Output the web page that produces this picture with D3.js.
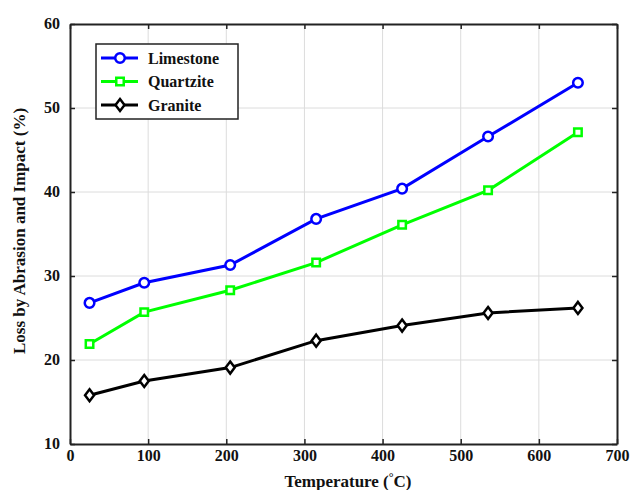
<!DOCTYPE html>
<html><head><meta charset="utf-8">
<script src="https://cdn.jsdelivr.net/npm/d3@7"></script>
<style>body{margin:0;background:#fff}</style>
</head><body>
<svg id="c" width="630" height="490"></svg>
<script>
const temperatures = [25, 95, 205, 315, 425, 535, 650];
const limestone = [26.8, 29.2, 31.3, 36.8, 40.4, 46.6, 53.0];
const quartzite = [21.9, 25.7, 28.3, 31.6, 36.1, 40.2, 47.1];
const granite = [15.8, 17.5, 19.1, 22.3, 24.1, 25.6, 26.2];
const seriesNames = ["Limestone", "Quartzite", "Granite"];
const seriesColors = ["#0000ff", "#00ff00", "#000000"];
const seriesMarkers = ["circle", "square", "diamond"];
const xTicks = [0, 100, 200, 300, 400, 500, 600, 700];
const yTicks = [10, 20, 30, 40, 50, 60];

const series = [limestone, quartzite, granite];
const svg = d3.select("#c");
const m = {l: 70, r: 617, t: 24, b: 444};
const x = d3.scaleLinear().domain([0, 700]).range([m.l, m.r]);
const y = d3.scaleLinear().domain([10, 60]).range([m.b, m.t]);
const font = "'Liberation Serif','Times New Roman',serif";

// grid
svg.append("g").selectAll("line").data(xTicks.slice(1, -1)).join("line")
  .attr("x1", d => x(d)).attr("x2", d => x(d)).attr("y1", m.t).attr("y2", m.b)
  .attr("stroke", "#dcdcdc").attr("stroke-width", 1);
svg.append("g").selectAll("line").data(yTicks.slice(1, -1)).join("line")
  .attr("y1", d => y(d)).attr("y2", d => y(d)).attr("x1", m.l).attr("x2", m.r)
  .attr("stroke", "#dcdcdc").attr("stroke-width", 1);

// axes
const xb = svg.append("g").attr("transform", `translate(0,${m.b})`)
  .call(d3.axisBottom(x).tickValues(xTicks).tickSizeInner(-5).tickSizeOuter(0).tickPadding(6));
const xt = svg.append("g").attr("transform", `translate(0,${m.t})`)
  .call(d3.axisTop(x).tickValues(xTicks).tickSizeInner(-5).tickSizeOuter(0).tickFormat(""));
const yl = svg.append("g").attr("transform", `translate(${m.l},0)`)
  .call(d3.axisLeft(y).tickValues(yTicks).tickSizeInner(-5).tickSizeOuter(0).tickPadding(10));
const yr = svg.append("g").attr("transform", `translate(${m.r},0)`)
  .call(d3.axisRight(y).tickValues(yTicks).tickSizeInner(-5).tickSizeOuter(0).tickFormat(""));
[xb, xt, yl, yr].forEach(g => {
  g.selectAll(".domain").attr("stroke", "#222").attr("stroke-width", 2);
  g.selectAll(".tick line").attr("stroke", "#222").attr("stroke-width", 1.5);
  g.selectAll("text").attr("font-family", font).attr("font-weight", "bold")
    .attr("font-size", 16).attr("fill", "#111");
});
yl.selectAll("text").attr("dy", "0.25em");

const sym = {
  circle: d3.symbol(d3.symbolCircle, 72),
  square: d3.symbol(d3.symbolSquare, 56)
};
function drawMarker(g, type, cx, cy, color) {
  const d = type === "diamond" ? "M0,-6L4.5,0L0,6L-4.5,0Z" : sym[type]();
  g.append("path").attr("d", d)
    .attr("transform", `translate(${cx},${cy})`)
    .attr("fill", "#fff").attr("stroke", color).attr("stroke-width", 2.5);
}

const line = d3.line().x((d, i) => x(temperatures[i])).y(d => y(d));
series.forEach((s, k) => {
  const g = svg.append("g");
  g.append("path").datum(s).attr("d", line).attr("fill", "none")
    .attr("stroke", seriesColors[k]).attr("stroke-width", 3);
  s.forEach((v, i) => drawMarker(g, seriesMarkers[k], x(temperatures[i]), y(v), seriesColors[k]));
});

// legend
const lg = svg.append("g");
lg.append("rect").attr("x", 96).attr("y", 44).attr("width", 142).attr("height", 75)
  .attr("fill", "#fff").attr("stroke", "#222").attr("stroke-width", 1.5);
seriesNames.forEach((n, k) => {
  const ly = 58 + k * 23.5;
  lg.append("line").attr("x1", 101).attr("x2", 138).attr("y1", ly).attr("y2", ly)
    .attr("stroke", seriesColors[k]).attr("stroke-width", 3);
  drawMarker(lg, seriesMarkers[k], 120, ly, seriesColors[k]);
  lg.append("text").attr("x", 148).attr("y", ly + 5.5).text(n)
    .attr("font-family", font).attr("font-weight", "bold").attr("font-size", 16).attr("fill", "#111");
});

// axis titles
const xtit = svg.append("text").attr("x", 348).attr("y", 487).attr("text-anchor", "middle")
  .attr("font-family", font).attr("font-weight", "bold").attr("font-size", 17).attr("fill", "#111");
xtit.append("tspan").text("Temperature (");
xtit.append("tspan").text("°").attr("dy", -6).attr("font-size", 12);
xtit.append("tspan").text("C)").attr("dy", 6);
svg.append("text").attr("transform", `translate(25,231) rotate(-90)`)
  .attr("text-anchor", "middle").text("Loss by Abrasion and Impact (%)")
  .attr("font-family", font).attr("font-weight", "bold").attr("font-size", 17).attr("fill", "#111");
</script>
</body></html>
